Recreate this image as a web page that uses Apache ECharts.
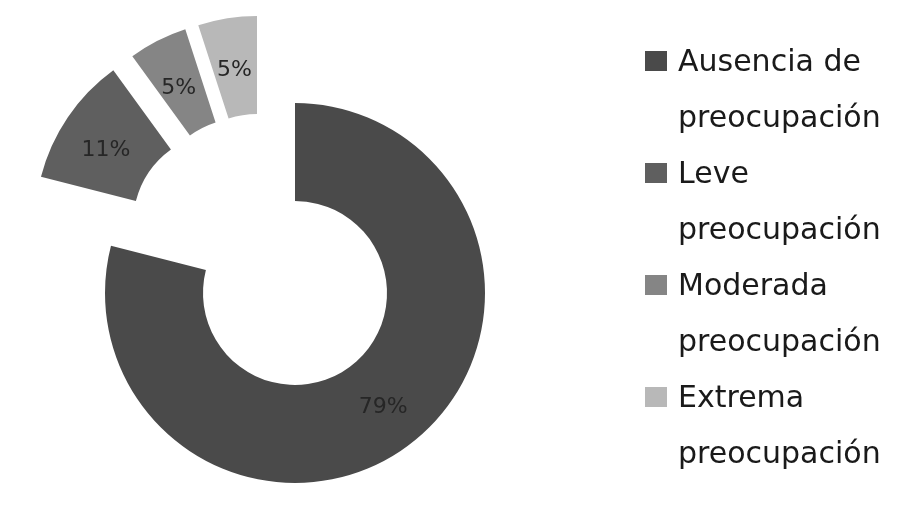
<!DOCTYPE html>
<html>
<head>
<meta charset="utf-8">
<script src="https://cdn.jsdelivr.net/npm/echarts@6/dist/echarts.min.js"></script>
<style>
html,body{margin:0;padding:0;background:#fff;}
#chart{width:904px;height:508px;}
</style>
</head>
<body>
<div id="chart"></div>
<script>
// Data
var categories = ['Ausencia de preocupación', 'Leve preocupación', 'Moderada preocupación', 'Extrema preocupación'];
var values = [79, 11, 5, 5];
var colors = ['#4a4a4a', '#5f5f5f', '#858585', '#b8b8b8'];

// Layout (explosion offsets per slice, in px)
var baseCenter = [295, 293];
var offsets = [[0, 0], [-70, -69], [-51, -83], [-38, -87]];
var labelShift = [0, 14, 14, 14];

var chart = echarts.init(document.getElementById('chart'), null, {renderer: 'canvas'});

var series = categories.map(function (cat, i) {
  return {
    type: 'pie',
    silent: true,
    animation: false,
    startAngle: 90,
    clockwise: true,
    avoidLabelOverlap: false,
    center: [baseCenter[0] + offsets[i][0], baseCenter[1] + offsets[i][1]],
    radius: [92, 190],
    emphasis: {disabled: true},
    labelLine: {show: false},
    data: categories.map(function (c, j) {
      var on = (i === j);
      return {
        name: c,
        value: values[j],
        itemStyle: {color: on ? colors[j] : 'rgba(0,0,0,0)'},
        label: {
          show: on,
          position: 'inside',
          formatter: function (p) {
            var t = '{v|' + p.value + '%}';
            return labelShift[j] ? '{p| }\n' + t : t;
          },
          rich: {
            p: {fontSize: 10, lineHeight: labelShift[j] || 1},
            v: {
              color: '#262626',
              fontFamily: 'DejaVu Sans',
              fontSize: 22,
              lineHeight: 24
            }
          }
        }
      };
    })
  };
});

// legend icon: 22x20 square placed on the first text line of a 22x112 item box
var legendIcon = 'path://M0,0h0.01v0.01h-0.01z M0,16h22v20h-22z M22,112h-0.01v-0.01h0.01z';

chart.setOption({
  backgroundColor: '#ffffff',
  legend: {
    orient: 'vertical',
    left: 645,
    top: 35,
    padding: 0,
    itemGap: 0,
    itemWidth: 22,
    itemHeight: 112,
    icon: legendIcon,
    selectedMode: false,
    data: categories.map(function (c, j) {
      return {name: c, itemStyle: {color: colors[j]}};
    }),
    formatter: function (name) {
      return name.replace(' preocupación', '\npreocupación');
    },
    textStyle: {
      color: '#1a1a1a',
      fontFamily: 'DejaVu Sans',
      fontSize: 30,
      lineHeight: 56,
      padding: [0, 0, 0, 6]
    }
  },
  series: series
});
</script>
</body>
</html>
